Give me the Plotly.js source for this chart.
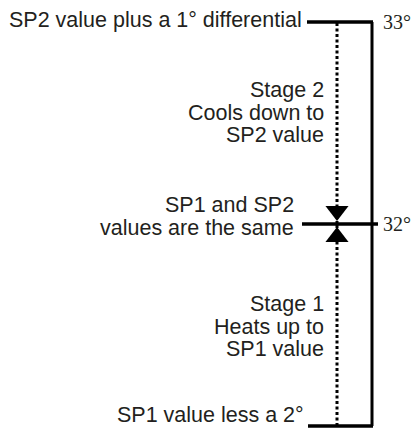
<!DOCTYPE html>
<html>
<head>
<meta charset="utf-8">
<script src="https://cdn.plot.ly/plotly-3.0.1.min.js"></script>
<style>html,body{margin:0;padding:0;background:#fff;}#chart{width:418px;height:428px;}</style>
</head>
<body>
<div id="chart"></div>
<script>
// ---- data ----
const levels = [30, 32, 33];
const levelLabels = ['30°', '32°', '33°'];
const levelNotes = ['SP1 value less a 2°', 'SP1 and SP2<br>values are the same', 'SP2 value plus a 1° differential'];
const stageNotes = ['Stage 1<br>Heats up to<br>SP1 value', 'Stage 2<br>Cools down to<br>SP2 value'];

// ---- layout helpers (pixel geometry of the schematic) ----
const W = 418, H = 428;
const topPx = 22, botPx = 426;                 // pixel rows of highest / lowest level
const pos = levels.map((v, i) => i);           // schematic: equal spacing per level
const n = pos.length - 1;
const unit = (botPx - topPx) / n;              // px per level step
const yRange = [-(H - botPx) / unit, n + topPx / unit];
const axisX = 372, dotX = 337;
const lineStart = [308, 302, 307], lineEnd = [373, 378, 373];
const levelNoteTop = [415, 205, 20];   // pixel centre of first text line
const levelNoteRight = [306, 296, 304];
const stageNoteTop = [304, 90];
const lineGap = 22.5;
const paperY = px => (H - px) / H;
const ink = '#231f20';
const sans = 'Liberation Sans, Arial, sans-serif';
const fs = 21.5;

const traces = [];
// dotted path between levels
for (let i = 0; i < n; i++) {
  traces.push({x: [dotX, dotX], y: [pos[i], pos[i + 1]], mode: 'lines',
    line: {color: '#000', width: 3, dash: '3px,2.5px'}, hoverinfo: 'skip', showlegend: false});
}
// solid scale line
traces.push({x: [axisX, axisX], y: [pos[0], pos[n]], mode: 'lines',
  line: {color: '#000', width: 3}, hoverinfo: 'skip', showlegend: false});
// horizontal level lines
levels.forEach((v, i) => {
  traces.push({x: [lineStart[i], lineEnd[i]], y: [pos[i], pos[i]], mode: 'lines',
    line: {color: '#000', width: 3.5}, hoverinfo: 'skip', showlegend: false});
});
// arrowheads meeting at SP1 = SP2 level
const mid = levels.indexOf(32);
const off = 13 / unit;
traces.push({x: [dotX], y: [pos[mid] + off], mode: 'markers', cliponaxis: false,
  marker: {symbol: 'triangle-down', size: 20, color: '#000', line: {width: 0}}, hoverinfo: 'skip', showlegend: false});
traces.push({x: [dotX], y: [pos[mid] - off], mode: 'markers', cliponaxis: false,
  marker: {symbol: 'triangle-up', size: 20, color: '#000', line: {width: 0}}, hoverinfo: 'skip', showlegend: false});

const annotations = [];
function addLines(text, right, top) {
  text.split('<br>').forEach((line, k) => {
    annotations.push({x: right, y: paperY(top + k * lineGap), xref: 'x', yref: 'paper',
      xanchor: 'right', yanchor: 'middle', text: line, align: 'right', showarrow: false,
      font: {family: sans, size: fs, color: ink}});
  });
}
levelNotes.forEach((t, i) => addLines(t, levelNoteRight[i], levelNoteTop[i]));
stageNotes.forEach((t, i) => addLines(t, 326, stageNoteTop[i]));

const layout = {
  width: W, height: H,
  margin: {l: 0, r: 0, t: 0, b: 0, pad: 0},
  paper_bgcolor: '#fff', plot_bgcolor: '#fff',
  showlegend: false,
  xaxis: {range: [0, W], visible: false, fixedrange: true},
  yaxis: {range: yRange, anchor: 'free', position: axisX / W, side: 'right',
    showline: false, showgrid: false, zeroline: false,
    tickvals: pos, ticktext: levelLabels, ticks: '', ticklabelstandoff: 10,
    tickfont: {family: 'Liberation Serif, Times New Roman, serif', size: 20, color: ink}, fixedrange: true},
  annotations: annotations
};

Plotly.newPlot('chart', traces, layout, {displayModeBar: false, staticPlot: true});
</script>
</body>
</html>
